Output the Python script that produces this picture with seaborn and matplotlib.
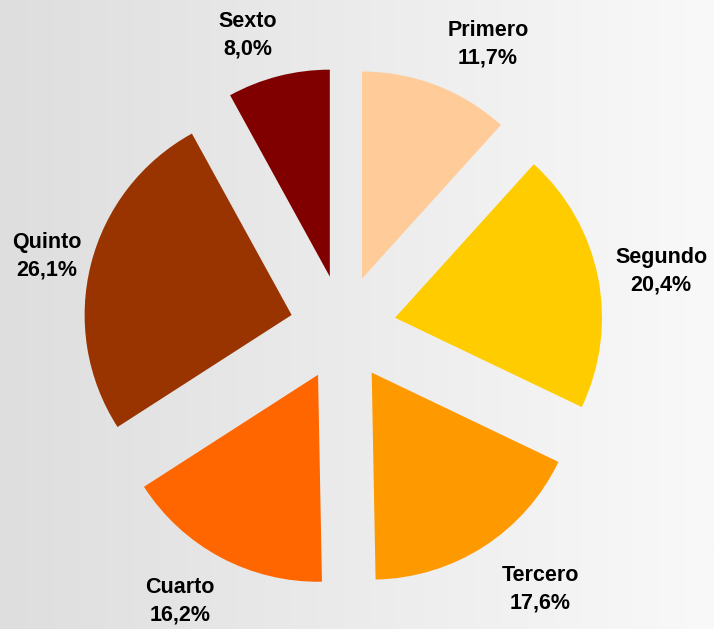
import numpy as np
import seaborn as sns
import matplotlib
matplotlib.use('Agg')
import matplotlib.pyplot as plt

sns.set_style('white')
plt.rcParams['font.family'] = ['Liberation Sans', 'DejaVu Sans']

# datos del gráfico
categorias = ['Primero', 'Segundo', 'Tercero', 'Cuarto', 'Quinto', 'Sexto']
porcentajes = [11.7, 20.4, 17.6, 16.2, 26.1, 8.0]
colores = ['#FFCC99', '#FFCC00', '#FF9900', '#FF6600', '#993300', '#800000']

etiquetas = ['{}\n{}%'.format(c, str(v).replace('.', ',')) for c, v in zip(categorias, porcentajes)]

# posición de cada etiqueta (px desde arriba a la izquierda), como las coloca Excel
pos_etiquetas = [(488, 44), (661, 271), (540, 589), (180, 601), (47, 256), (248, 35)]

fig = plt.figure(figsize=(7.14, 6.29), dpi=100)
ax = fig.add_axes([0, 0, 1, 1])

# fondo con degradado gris -> blanco
grad = np.linspace(0, 1, 256).reshape(1, -1)
ax.imshow(grad, extent=[0, 714, 0, 629], cmap=sns.blend_palette(['#dedede', '#f9f9f9'], as_cmap=True),
          aspect='auto', zorder=0)

# explode en unidades de datos (px), no en fracción del radio
wedges, texts = ax.pie(porcentajes, labels=etiquetas, colors=colores, startangle=90, counterclock=False,
                       explode=[53] * len(porcentajes), radius=207, center=(343, 301),
                       labeldistance=1.27, frame=True,
                       textprops={'fontsize': 15.5, 'fontweight': 'bold', 'color': 'black', 'linespacing': 1.4},
                       wedgeprops={'linewidth': 0})
for t, (px, py) in zip(texts, pos_etiquetas):
    t.set_ha('center')
    t.set_va('center')
    t.set_position((px, 629 - py))

ax.set_xlim(0, 714)
ax.set_ylim(0, 629)
ax.set_aspect('equal')
ax.axis('off')

plt.savefig('out.png', dpi=100)
